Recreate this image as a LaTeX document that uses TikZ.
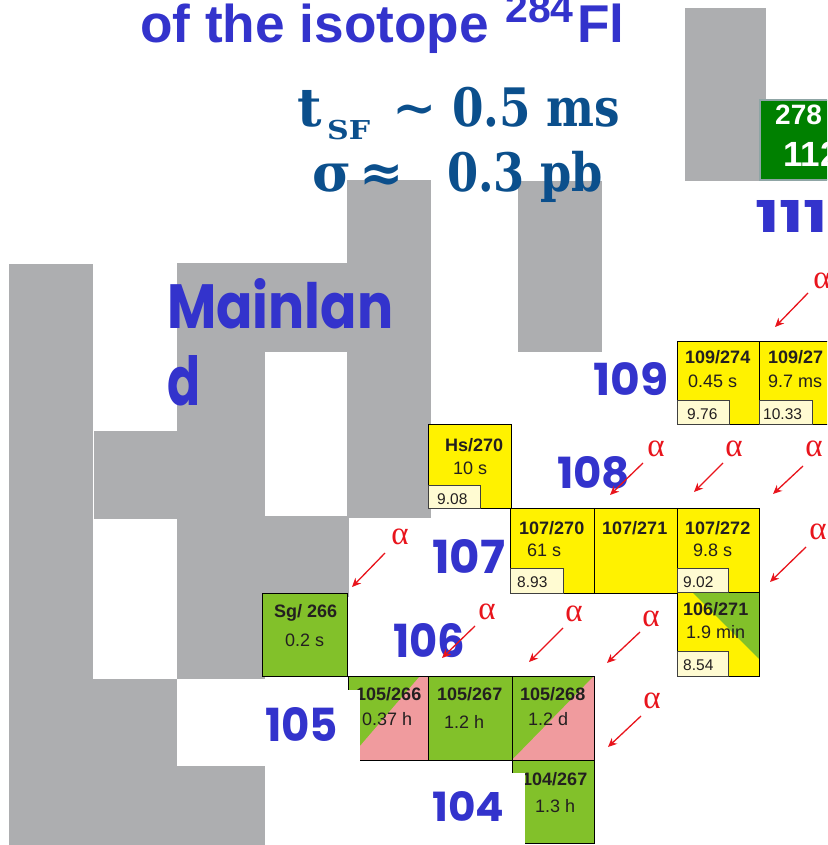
\documentclass[tikz,border=0pt]{standalone}
\usepackage{fontspec}
\usepackage{graphicx}
\setmainfont{Liberation Sans}
\newfontfamily\comicf{Poppins}
\newfontfamily\slabf{DejaVu Serif}
\newfontfamily\greekf{Liberation Serif}
\usetikzlibrary{arrows.meta}
\definecolor{grayblk}{HTML}{ADAEB0}
\definecolor{labblue}{HTML}{3333CC}
\definecolor{slabblue}{HTML}{0B4F8C}
\definecolor{nucyellow}{HTML}{FFF200}
\definecolor{nucgreen}{HTML}{82C12A}
\definecolor{nucpink}{HTML}{F09B9E}
\definecolor{cream}{HTML}{FFFBD2}
\definecolor{alphared}{HTML}{E8141C}
\definecolor{darkgreen}{HTML}{008000}
\definecolor{greenborder}{HTML}{8FA5A5}
\definecolor{inkdark}{HTML}{231F20}
\newcommand{\fsz}[1]{\fontsize{#1}{#1}\selectfont}
\begin{document}
\begin{tikzpicture}[x=1pt,y=-1pt,
  cell/.style={draw=black, line width=1pt, inner sep=0pt},
  ycell/.style={cell, fill=nucyellow},
  gcell/.style={cell, fill=nucgreen},
  qbox/.style={draw=black!75, fill=cream, line width=0.8pt, inner sep=0pt},
  nuc/.style={font=\fsz{18}\bfseries, text=inkdark, anchor=base west, inner sep=0pt},
  life/.style={font=\fsz{18}, text=inkdark, anchor=base west, inner sep=0pt},
  qtext/.style={font=\fsz{15.5}, text=inkdark, anchor=base west, inner sep=0pt},
  zlab/.style={font=\comicf\bfseries, text=labblue, anchor=base west, inner sep=0pt},
  slab/.style={font=\slabf\bfseries\fsz{53}, text=slabblue, anchor=base west, inner sep=0pt},
  alphalab/.style={font=\greekf\fsz{33}, text=alphared, inner sep=0pt},
  decay/.style={draw=alphared, line width=1.3pt, -{Stealth[length=9pt,width=8pt]}}
]
\useasboundingbox (0,0) rectangle (827,845);
\clip (0,0) rectangle (827,845);

% grey blocks
\fill[grayblk] (9,264) rectangle (93,845);
\fill[grayblk] (94,431) rectangle (177,519);
\fill[grayblk] (177,263) rectangle (265,679);
\fill[grayblk] (9,679) rectangle (177,845);
\fill[grayblk] (9,766) rectangle (265,845);
\fill[grayblk] (177,263) rectangle (347,352);
\fill[grayblk] (347,180) rectangle (431,518);
\fill[grayblk] (265,516) rectangle (349,597);
\fill[grayblk] (518,181) rectangle (602,352);
\fill[grayblk] (685,8) rectangle (766,181);

% title
\node[font=\bfseries\fsz{53.2}, text=labblue, anchor=base west, inner sep=0pt] (title) at (140,43) {of the isotope};
\node[font=\bfseries\fsz{41}, text=labblue, anchor=base west, inner sep=0pt] (titlesup) at (505,23) {284};
\node[font=\bfseries\fsz{53.2}, text=labblue, anchor=base west, inner sep=0pt] (titlefl) at (577,43) {Fl};

% tSF and sigma
\node[slab] (tt) at (297,127) {t};
\node[slab, font=\slabf\bfseries\fsz{26}] (tsub) at (327,140) {\resizebox{43pt}{\height}{SF}};
\node[slab] (tsim) at (392,127) {∼};
\node[slab] (tval) at (452,127) {\resizebox{168pt}{\height}{0.5 ms}};
\node[slab] (sig) at (312,191) {σ};
\node[slab] (sigapp) at (359,191) {≈};
\node[slab] (sigval) at (447,191) {\resizebox{156pt}{\height}{0.3 pb}};

% Mainland
\node[zlab] (main1) at (167,328) {\resizebox{226pt}{50pt}{Mainlan}};
\node[zlab] (main2) at (167,405) {\resizebox{33pt}{50pt}{d}};

% top-right green box
\node[draw=greenborder, fill=darkgreen, line width=1.5pt, minimum width=90pt, minimum height=80pt, inner sep=0pt] (b112) at (805,140) {};
\node[font=\bfseries\fsz{28}, text=white, anchor=base west, inner sep=0pt] (b112a) at (775,125) {278};
\node[font=\bfseries\fsz{35}, text=white, anchor=base west, inner sep=0pt] (b112b) at (783,167) {112};

% cells
\node[ycell, minimum width=82pt, minimum height=83pt] (b109a) at (718,382.5) {};
\node[ycell, minimum width=83pt, minimum height=83pt] (b109b) at (800.5,382.5) {};
\node[ycell, minimum width=83pt, minimum height=84pt] (bHs) at (469.5,466) {};
\node[ycell, minimum width=84pt, minimum height=85pt] (b107a) at (552,550.5) {};
\node[ycell, minimum width=83pt, minimum height=85pt] (b107b) at (635.5,550.5) {};
\node[ycell, minimum width=82pt, minimum height=84pt] (b107c) at (718,550) {};
\node[ycell, minimum width=82pt, minimum height=84pt,
  path picture={\fill[nucgreen] ([xshift=15pt]path picture bounding box.north west) -- (path picture bounding box.north east) -- ([yshift=17pt]path picture bounding box.south east) -- cycle;}] (b106) at (718,634) {};
\node[gcell, minimum width=85pt, minimum height=83pt] (bSg) at (304.5,634.5) {};
\node[gcell, minimum width=80pt, minimum height=84pt,
  path picture={\fill[nucpink] (path picture bounding box.south west) -- ([xshift=-8pt]path picture bounding box.north east) -- (path picture bounding box.north east) -- (path picture bounding box.south east) -- cycle;}] (b105a) at (388,718) {};
\node[gcell, minimum width=84pt, minimum height=84pt] (b105b) at (470,718) {};
\node[gcell, minimum width=82pt, minimum height=84pt,
  path picture={\fill[nucpink] (path picture bounding box.south west) -- (path picture bounding box.north east) -- (path picture bounding box.south east) -- cycle;}] (b105c) at (553,718) {};
\node[gcell, minimum width=82pt, minimum height=83pt] (b104) at (553,801.5) {};

% Q-value boxes
\node[qbox, minimum width=52pt, minimum height=24pt] (q109a) at (703,412) {};
\node[qbox, minimum width=53pt, minimum height=24pt] (q109b) at (785.5,412) {};
\node[qbox, minimum width=52pt, minimum height=23pt] (qHs) at (454,496.5) {};
\node[qbox, minimum width=53pt, minimum height=25pt] (q107a) at (536.5,580.5) {};
\node[qbox, minimum width=51pt, minimum height=24pt] (q107c) at (702.5,580) {};
\node[qbox, minimum width=51pt, minimum height=25pt] (q106) at (702.5,663.5) {};

% cell texts
\node[nuc] (t109a) at (685,363) {109/274};
\node[life] (l109a) at (688,387) {0.45 s};
\node[qtext] (v109a) at (687,419) {9.76};
\node[nuc] (t109b) at (768,363) {109/27};
\node[life] (l109b) at (768,387) {9.7 ms};
\node[qtext] (v109b) at (763,419) {10.33};
\node[nuc] (tHs) at (445,451) {Hs/270};
\node[life] (lHs) at (453,474) {10 s};
\node[qtext] (vHs) at (437,504) {9.08};
\node[nuc] (t107a) at (519,534) {107/270};
\node[life] (l107a) at (527,556) {61 s};
\node[qtext] (v107a) at (517,587) {8.93};
\node[nuc] (t107b) at (602,534) {107/271};
\node[nuc] (t107c) at (685,534) {107/272};
\node[life] (l107c) at (693,556) {9.8 s};
\node[qtext] (v107c) at (683,587) {9.02};
\node[nuc] (t106) at (683,615) {106/271};
\node[life] (l106) at (686,638) {1.9 min};
\node[qtext] (v106) at (683,670) {8.54};
\node[nuc] (tSg) at (274,617) {Sg/ 266};
\node[life] (lSg) at (285,646) {0.2 s};
\node[nuc] (t105a) at (356,700) {105/266};
\node[life] (l105a) at (362,725) {0.37 h};
\node[nuc] (t105b) at (437,700) {105/267};
\node[life] (l105b) at (444,728) {1.2 h};
\node[nuc] (t105c) at (520,700) {105/268};
\node[life] (l105c) at (528,725) {1.2 d};
\node[nuc] (t104) at (522,785) {104/267};
\node[life] (l104) at (535,812) {1.3 h};

% white overlays
\fill[white] (338,690) rectangle (360,762);
\fill[white] (500,773) rectangle (525,846);

% Z labels
\node[zlab] (z111) at (755,232) {\resizebox{72pt}{32pt}{111}};
\node[zlab] (z109) at (593,395) {\resizebox{75pt}{33pt}{109}};
\node[zlab] (z108) at (557,488) {\resizebox{73pt}{32pt}{108}};
\node[zlab] (z107) at (432,573) {\resizebox{73pt}{34pt}{107}};
\node[zlab] (z106) at (393,657) {\resizebox{72pt}{34pt}{106}};
\node[zlab] (z105) at (265,741) {\resizebox{73pt}{34pt}{105}};
\node[zlab] (z104) at (432,821) {\resizebox{72pt}{30pt}{104}};

% alpha decays
\foreach \i/\ax/\ay/\sx/\sy/\ex/\ey in {
  1/400/537/385/553/352/587,
  2/656/449/643/463/610/495,
  3/734/449/723/463/694/492,
  4/814/449/803/466/773/494,
  5/822/281/808/293/775/327,
  6/818/532/806/547/770/582,
  7/651/619/640/632/607/663,
  8/487/612/475/626/442/658,
  9/574/614/563/628/529/662,
  10/652/701/641/716/608/747}{
  \node[alphalab] (al\i) at (\ax,\ay) {α};
  \coordinate (as\i) at (\sx,\sy);
  \coordinate (ae\i) at (\ex,\ey);
  \draw[decay] (as\i) -- (ae\i);
}
\end{tikzpicture}
\end{document}
